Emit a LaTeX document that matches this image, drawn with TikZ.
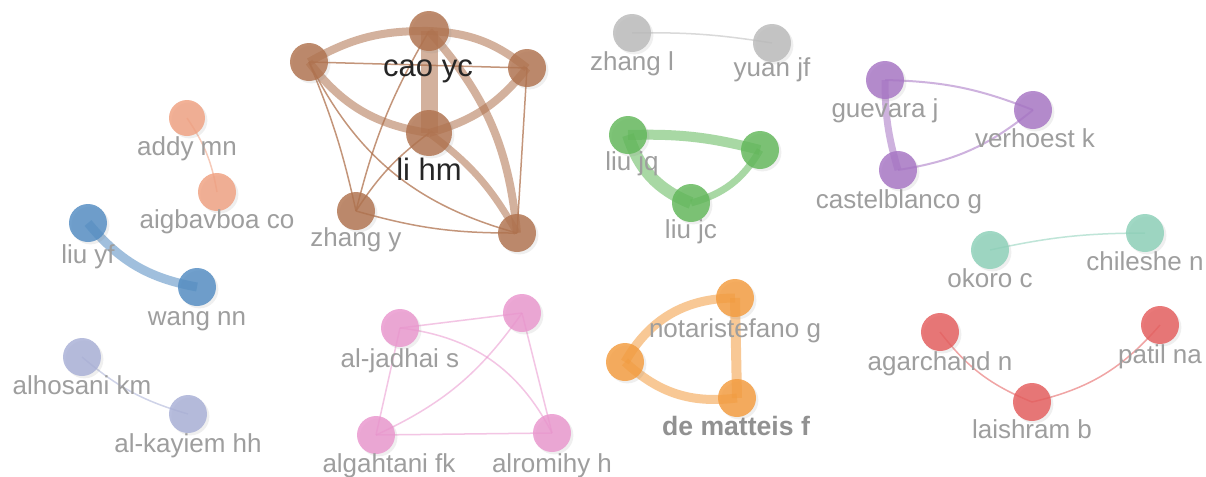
\documentclass[tikz,border=0pt]{standalone}
\usepackage{fontspec}
\setmainfont{Liberation Sans}
\usetikzlibrary{backgrounds,shadows}

\definecolor{cRed}{RGB}{229,92,92}
\definecolor{cGreen}{RGB}{98,184,90}
\definecolor{cBlue}{RGB}{82,140,194}
\definecolor{cPurple}{RGB}{166,116,196}
\definecolor{cTeal}{RGB}{140,208,184}
\definecolor{cOrange}{RGB}{244,156,62}
\definecolor{cBrown}{RGB}{176,114,78}
\definecolor{cPink}{RGB}{234,150,206}
\definecolor{cLav}{RGB}{168,175,214}
\definecolor{cGray}{RGB}{186,186,186}
\definecolor{cSalmon}{RGB}{240,160,128}
\definecolor{labgray}{RGB}{158,158,158}

\begin{document}
\begin{tikzpicture}[x=0.5pt,y=-0.5pt,
  au/.style={circle, fill=#1, fill opacity=0.82, minimum size=19pt, inner sep=0pt, outer sep=0pt,
    drop shadow={shadow xshift=1.2pt, shadow yshift=-1.2pt, opacity=0.12}},
  lbl/.style={anchor=base, inner sep=0pt, text=labgray, font=\fontsize{13}{15}\selectfont},
  biglbl/.style={anchor=base, inner sep=0pt, text=black!85, font=\fontsize{15.5}{18}\selectfont},
  tie/.style={draw=#1, draw opacity=0.55},
  thin/.style={line width=0.75pt}]
\useasboundingbox (0,0) rectangle (1206,477);

% brown cluster
\node[au=cBrown, minimum size=20pt] (caoyc) at (429,31) {};
\node[au=cBrown, minimum size=23pt] (lihm) at (429,133) {};
\node[au=cBrown] (brw1) at (309,62) {};
\node[au=cBrown] (brw2) at (527,68) {};
\node[au=cBrown] (zhangy) at (356,211) {};
\node[au=cBrown] (brw3) at (517,233) {};
\node[biglbl] (t-caoyc) at (428,76) {cao yc};
\node[biglbl] (t-lihm) at (429,180) {li hm};
\node[lbl] (t-zhangy) at (356,246) {zhang y};

% salmon, blue, lavender
\node[au=cSalmon, minimum size=18pt] (addy) at (187,118) {};
\node[au=cSalmon] (aigb) at (217,192) {};
\node[lbl] (t-addy) at (187,155) {addy mn};
\node[lbl] (t-aigb) at (217,228) {aigbavboa co};
\node[au=cBlue] (liuyf) at (88,223) {};
\node[au=cBlue] (wangnn) at (197,287) {};
\node[lbl] (t-liuyf) at (88,263) {liu yf};
\node[lbl] (t-wangnn) at (197,325) {wang nn};
\node[au=cLav] (alhos) at (82,357) {};
\node[au=cLav] (alkay) at (188,414) {};
\node[lbl] (t-alhos) at (82,394) {alhosani km};
\node[lbl] (t-alkay) at (188,452) {al-kayiem hh};

% pink
\node[au=cPink] (aljad) at (400,328) {};
\node[au=cPink] (pnk1) at (522,313) {};
\node[au=cPink] (algah) at (376,435) {};
\node[au=cPink] (alrom) at (552,433) {};
\node[lbl] (t-aljad) at (400,367) {al-jadhai s};
\node[lbl] (t-algah) at (389,472) {algahtani fk};
\node[lbl] (t-alrom) at (552,472) {alromihy h};

% orange
\node[au=cOrange] (org1) at (625,362) {};
\node[au=cOrange] (notar) at (735,298) {};
\node[au=cOrange] (demat) at (737,398) {};
\node[lbl] (t-notar) at (735,337) {notaristefano g};
\node[lbl, font=\fontsize{13.3}{15}\selectfont\bfseries, text=black!43] (t-demat) at (736,435) {de matteis f};

% gray, green
\node[au=cGray] (zhangl) at (632,33) {};
\node[au=cGray] (yuanjf) at (772,43) {};
\node[lbl] (t-zhangl) at (632,70) {zhang l};
\node[lbl] (t-yuanjf) at (772,76) {yuan jf};
\node[au=cGreen] (liujq) at (628,135) {};
\node[au=cGreen] (grn1) at (760,150) {};
\node[au=cGreen] (liujc) at (691,203) {};
\node[lbl] (t-liujq) at (632,170) {liu jq};
\node[lbl] (t-liujc) at (691,238) {liu jc};

% purple, teal, red
\node[au=cPurple] (guev) at (885,80) {};
\node[au=cPurple] (verh) at (1033,110) {};
\node[au=cPurple] (castel) at (898,170) {};
\node[lbl] (t-guev) at (885,117) {guevara j};
\node[lbl] (t-verh) at (1035,147) {verhoest k};
\node[lbl] (t-castel) at (899,208) {castelblanco g};
\node[au=cTeal] (okoro) at (990,250) {};
\node[au=cTeal] (chil) at (1145,233) {};
\node[lbl] (t-okoro) at (990,287) {okoro c};
\node[lbl] (t-chil) at (1145,270) {chileshe n};
\node[au=cRed] (agar) at (940,332) {};
\node[au=cRed] (patil) at (1160,325) {};
\node[au=cRed] (laish) at (1032,402) {};
\node[lbl] (t-agar) at (940,370) {agarchand n};
\node[lbl] (t-patil) at (1160,363) {patil na};
\node[lbl] (t-laish) at (1032,438) {laishram b};

\begin{scope}[on background layer]
\fill[white] (0,0) rectangle (1206,477);
% brown links
\draw[tie=cBrown, line width=8.5pt] (caoyc.center) -- (lihm.center);
\draw[tie=cBrown, line width=4pt] (caoyc.center) to[bend right=15] (brw1.center);
\draw[tie=cBrown, line width=4pt] (caoyc.center) to[bend left=18] (brw2.center);
\draw[tie=cBrown, line width=4pt] (brw1.center) to[bend right=22] (lihm.center);
\draw[tie=cBrown, line width=4pt] (lihm.center) to[bend right=18] (brw2.center);
\draw[tie=cBrown, line width=4pt] (caoyc.center) to[bend left=18] (brw3.center);
\draw[tie=cBrown, line width=3.5pt] (lihm.center) to[bend left=12] (brw3.center);
\draw[tie=cBrown, thin, draw opacity=0.75] (brw1.center) -- (brw2.center);
\draw[tie=cBrown, thin, draw opacity=0.75] (brw2.center) -- (brw3.center);
\draw[tie=cBrown, thin, draw opacity=0.75] (brw1.center) to[bend left=5] (zhangy.center);
\draw[tie=cBrown, thin, draw opacity=0.75] (brw1.center) to[bend right=24] (brw3.center);
\draw[tie=cBrown, thin, draw opacity=0.75] (zhangy.center) to[bend left=8] (caoyc.center);
\draw[tie=cBrown, thin, draw opacity=0.75] (zhangy.center) to[bend left=10] (lihm.center);
\draw[tie=cBrown, thin, draw opacity=0.75] (zhangy.center) to[bend right=8] (brw3.center);
% small pairs
\draw[tie=cSalmon, thin] (addy.center) to[bend left=12] (aigb.center);
\draw[tie=cBlue, line width=4.5pt] (liuyf.center) to[bend right=20] (wangnn.center);
\draw[tie=cLav, thin] (alhos.center) to[bend right=12] (alkay.center);
\draw[tie=cGray, thin] (zhangl.center) to[bend left=5] (yuanjf.center);
\draw[tie=cTeal, thin] (okoro.center) to[bend left=6] (chil.center);
% pink links
\draw[tie=cPink, thin] (aljad.center) -- (pnk1.center);
\draw[tie=cPink, thin] (aljad.center) -- (algah.center);
\draw[tie=cPink, thin] (aljad.center) to[bend left=28] (alrom.center);
\draw[tie=cPink, thin] (algah.center) to[bend right=15] (pnk1.center);
\draw[tie=cPink, thin] (algah.center) -- (alrom.center);
\draw[tie=cPink, thin] (pnk1.center) -- (alrom.center);
% orange links
\draw[tie=cOrange, line width=4.5pt] (org1.center) to[bend left=30] (notar.center);
\draw[tie=cOrange, line width=4.5pt] (org1.center) to[bend right=25] (demat.center);
\draw[tie=cOrange, line width=5pt] (notar.center) -- (demat.center);
% green links
\draw[tie=cGreen, line width=5pt] (liujq.center) to[bend left=8] (grn1.center);
\draw[tie=cGreen, line width=6pt] (liujq.center) to[bend right=25] (liujc.center);
\draw[tie=cGreen, line width=3.5pt] (liujc.center) to[bend right=22] (grn1.center);
% purple links
\draw[tie=cPurple, line width=1pt] (guev.center) to[bend left=10] (verh.center);
\draw[tie=cPurple, line width=3.5pt] (guev.center) to[bend right=8] (castel.center);
\draw[tie=cPurple, line width=1pt] (castel.center) to[bend right=15] (verh.center);
% red links
\draw[tie=cRed, thin] (agar.center) to[bend right=15] (laish.center);
\draw[tie=cRed, thin] (laish.center) to[bend right=18] (patil.center);
\end{scope}
\end{tikzpicture}
\end{document}
